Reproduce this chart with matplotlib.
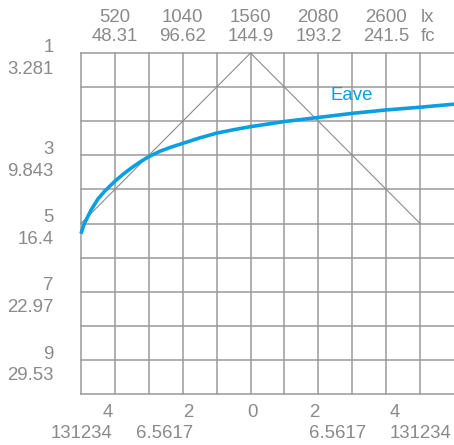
from matplotlib import pyplot as plt

# grid size (columns x rows)
COLUMNS = 11
ROWS = 10

TEXT_COLOR = "#8a8a8a"
GRID_COLOR = "#9a9a9a"
CURVE_COLOR = "#0a9fe3"
FONT = "Liberation Sans"
FONT_SIZE = 13.4

# top axis (lx / fc) at grid columns
top_columns = [1, 3, 5, 7, 9]
top_lx = ["520", "1040", "1560", "2080", "2600"]
top_fc = ["48.31", "96.62", "144.9", "193.2", "241.5"]

# left axis at grid rows
left_rows = [0, 3, 5, 7, 9]
left_m = ["1", "3", "5", "7", "9"]
left_ft = ["3.281", "9.843", "16.4", "22.97", "29.53"]

# bottom axis
bottom_columns = [0.94, 3.30, 5.07, 6.73, 9.09]
bottom_m = ["4", "2", "0", "2", "4"]
bottom_ft = ["131234", "6.5617", "", "6.5617", "131234"]
bottom_align = ["right", "right", "center", "left", "left"]

# beam outline (thin gray)
beam_x = [0, 5, 10]
beam_y = [5, 0, 5]

# Eave curve
eave_x = [0, 0.08, 0.16, 0.3, 0.5, 0.7, 1.0, 1.25, 1.5, 1.75, 2.0, 2.33,
          2.66, 3.0, 3.5, 4.0, 4.5, 5.0, 6.0, 7.0, 8.0, 9.0, 10.0, 11.0]
eave_y = [5.30, 5.05, 4.88, 4.60, 4.28, 4.05, 3.76, 3.55, 3.36, 3.19, 3.04,
          2.88, 2.76, 2.65, 2.49, 2.35, 2.25, 2.16, 2.01, 1.89, 1.77, 1.67,
          1.59, 1.50]


def draw() -> None:
    fig = plt.figure(figsize=(4.54, 4.45), dpi=100)
    ax = fig.add_axes([81 / 454, 51 / 445, 373 / 454, 341 / 445])
    ax.set_xlim(0, COLUMNS)
    ax.set_ylim(ROWS, 0)
    ax.axis("off")

    for c in range(COLUMNS):
        ax.axvline(c, color=GRID_COLOR, linewidth=1.1, clip_on=False)
    for r in range(ROWS + 1):
        ax.axhline(r, color=GRID_COLOR, linewidth=1.1, clip_on=False)

    ax.plot(beam_x, beam_y, color="#8c8c8c", linewidth=0.8, clip_on=False)
    ax.plot(eave_x, eave_y, color=CURVE_COLOR, linewidth=2.6,
            solid_capstyle="butt", solid_joinstyle="round", clip_on=False)
    ax.text(7.35, 1.25, "Eave", color=CURVE_COLOR, fontsize=FONT_SIZE,
            family=FONT, ha="left", va="center")

    style = dict(color=TEXT_COLOR, fontsize=FONT_SIZE, family=FONT,
                 va="center", clip_on=False)

    for c, lx, fc in zip(top_columns, top_lx, top_fc):
        ax.text(c, -1.04, lx, ha="center", **style)
        ax.text(c, -0.47, fc, ha="center", **style)
    ax.text(10.03, -1.04, "lx", ha="left", **style)
    ax.text(10.03, -0.47, "fc", ha="left", **style)

    for r, m, ft in zip(left_rows, left_m, left_ft):
        ax.text(-0.8, r - 0.17, m, ha="right", **style)
        ax.text(-0.8, r + 0.47, ft, ha="right", **style)

    for c, m, ft, al in zip(bottom_columns, bottom_m, bottom_ft, bottom_align):
        ax.text(c, 10.54, m, ha=al, **style)
        ax.text(c, 11.16, ft, ha=al, **style)

    fig.savefig("out.png", dpi=100)
    plt.close()


def main() -> None:
    draw()


if __name__ == "__main__":
    main()
